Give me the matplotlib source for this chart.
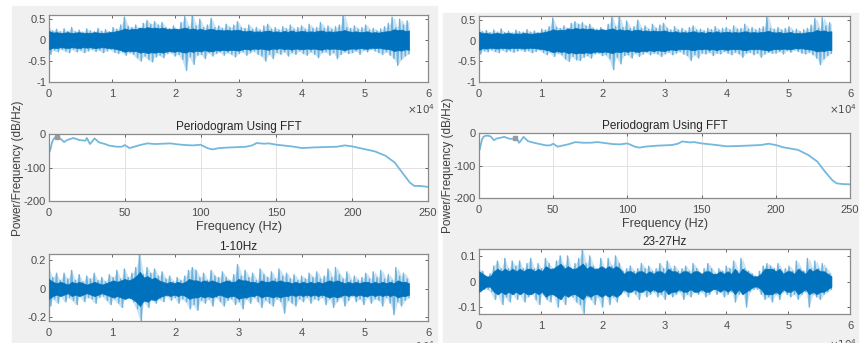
import numpy as np
import matplotlib.pyplot as plt
from matplotlib.patches import Rectangle

plt.rcParams['font.family'] = ['Liberation Sans', 'DejaVu Sans']

W, H = 865, 352
BLUE = '#0072BD'
LIGHT = '#6db1dc'
LINE = '#74b8de'
GRAY_BG = '#f0f0f0'
TICK = '#4d4d4d'

# ---- raw signal, top row (peaks, about every 600 samples)
left_top_up = [.32,.22,.26,.20,.27,.21,.30,.20,.24,.19,.27,.22,.20,.28,.21,.25,.20,.30,.26,.36,
               .55,.33,.30,.36,.28,.40,.47,.38,.44,.36,.42,.30,.28,.34,.26,.42,.56,.32,.60,.34,
               .50,.30,.36,.52,.30,.34,.28,.38,.30,.36,.44,.30,.28,.36,.26,.30,.24,.34,.38,.26,
               .30,.24,.32,.27,.36,.26,.30,.34,.26,.38,.28,.30,.42,.28,.34,.26,.32,.36,.62,.30,
               .28,.34,.26,.30,.36,.24,.28,.22,.27,.32,.40,.55,.30,.50,.36,.46]
left_top_lo = [.34,.24,.28,.22,.26,.30,.22,.28,.24,.30,.26,.22,.27,.24,.30,.26,.22,.29,.32,.28,
               .36,.30,.34,.42,.50,.38,.46,.52,.40,.36,.42,.32,.30,.38,.34,.46,.72,.40,.58,.36,
               .34,.44,.30,.38,.32,.28,.36,.30,.34,.40,.32,.28,.36,.30,.26,.34,.38,.50,.34,.44,
               .30,.34,.28,.38,.30,.34,.26,.32,.36,.28,.34,.42,.30,.28,.36,.30,.44,.34,.28,.32,
               .30,.26,.34,.24,.28,.22,.26,.30,.34,.28,.36,.44,.60,.46,.38,.32]
right_top_up = [.30,.22,.25,.20,.26,.21,.29,.20,.23,.19,.26,.22,.21,.27,.21,.24,.20,.28,.26,.34,
                .55,.33,.30,.36,.30,.42,.46,.40,.44,.36,.40,.30,.28,.32,.26,.40,.58,.34,.60,.32,
                .48,.30,.34,.50,.30,.36,.28,.40,.30,.38,.42,.30,.26,.34,.26,.30,.24,.32,.36,.26,
                .28,.24,.30,.27,.34,.26,.30,.32,.26,.36,.28,.30,.40,.28,.32,.26,.30,.34,.60,.30,
                .28,.32,.26,.30,.34,.24,.28,.22,.27,.30,.38,.54,.30,.56,.36,.44]
right_top_lo = [.32,.24,.27,.22,.26,.29,.22,.27,.24,.28,.25,.22,.26,.24,.29,.26,.22,.28,.34,.28,
                .38,.30,.34,.44,.50,.38,.46,.48,.40,.36,.42,.32,.30,.36,.34,.44,.70,.40,.56,.36,
                .34,.42,.30,.38,.32,.28,.34,.30,.32,.38,.32,.28,.34,.30,.26,.32,.36,.48,.34,.42,
                .30,.32,.28,.36,.30,.32,.26,.30,.34,.28,.32,.40,.30,.28,.34,.30,.40,.32,.28,.30,
                .30,.26,.32,.24,.28,.22,.26,.30,.32,.28,.34,.42,.58,.44,.36,.30]
top_core = [.22,.18,.19,.17,.18,.19,.17,.18,.19,.17,.18,.17,.19,.18,.17,.18,.19,.20,.22,.24,
            .28,.25,.27,.26,.30,.28,.31,.29,.30,.28,.30,.27,.26,.28,.26,.28,.30,.26,.28,.25,
            .27,.24,.26,.27,.24,.25,.23,.25,.23,.24,.25,.22,.21,.23,.20,.21,.20,.22,.23,.20,
            .21,.19,.22,.20,.23,.20,.21,.22,.20,.21,.20,.22,.23,.20,.21,.20,.21,.22,.24,.21,
            .20,.21,.19,.20,.21,.18,.19,.18,.20,.21,.22,.26,.24,.25,.22,.23]

# ---- filtered signals, bottom row
left_bot_up = [.15,.08,.11,.06,.11,.07,.13,.06,.10,.05,.09,.07,.11,.06,.08,.05,.10,.08,.13,.07,
               .14,.08,.11,.15,.245,.10,.15,.11,.14,.09,.12,.07,.09,.05,.08,.06,.09,.13,.15,.13,
               .08,.11,.06,.13,.09,.08,.12,.08,.06,.10,.17,.09,.13,.08,.11,.06,.14,.10,.08,.12,
               .07,.14,.09,.11,.07,.10,.06,.09,.07,.11,.08,.12,.07,.09,.14,.08,.15,.10,.07,.12,
               .06,.09,.06,.08,.11,.07,.12,.08,.13,.07,.10,.06,.15,.09,.11,.07]
left_bot_lo = [.12,.07,.10,.05,.09,.06,.08,.11,.05,.09,.06,.07,.10,.06,.05,.08,.11,.07,.10,.13,
               .07,.05,.09,.14,.225,.09,.13,.08,.10,.07,.09,.05,.08,.06,.10,.07,.09,.14,.11,
               .15,.08,.10,.07,.12,.06,.09,.12,.08,.07,.11,.09,.14,.07,.10,.06,.09,.13,.08,.10,
               .12,.07,.09,.17,.08,.10,.12,.07,.09,.06,.10,.07,.08,.06,.11,.07,.13,.09,.06,.12,
               .08,.05,.09,.07,.11,.06,.10,.07,.08,.12,.06,.10,.18,.09,.12,.08,.06]
left_bot_core = [.07,.05,.04,.05,.04,.03,.05,.04,.05,.04,.03,.04,.05,.04,.03,.04,.05,.06,.05,.06,
                 .07,.06,.07,.09,.12,.08,.09,.07,.08,.06,.05,.04,.05,.04,.05,.04,.05,.07,.06,.06,
                 .05,.06,.05,.06,.05,.04,.05,.06,.05,.05,.07,.06,.06,.05,.05,.04,.06,.05,.05,.06,
                 .05,.06,.05,.05,.04,.05,.04,.05,.04,.05,.04,.05,.04,.05,.06,.05,.06,.05,.04,.05,
                 .04,.05,.04,.05,.05,.04,.05,.04,.05,.04,.05,.04,.06,.05,.05,.04]
right_bot_up = [.05,.04,.02,.03,.06,.08,.05,.09,.05,.08,.06,.08,.05,.07,.09,.05,.07,.05,.09,.07,
                .05,.08,.10,.06,.10,.05,.07,.09,.125,.07,.10,.06,.05,.09,.05,.09,.06,.10,.07,.04,
                .05,.06,.04,.05,.07,.05,.06,.04,.05,.07,.05,.08,.05,.06,.04,.05,.06,.04,.07,.05,
                .03,.05,.07,.05,.03,.05,.04,.06,.05,.08,.04,.09,.05,.04,.03,.02,.04,.06,.07,.06,
                .05,.07,.04,.05,.06,.04,.08,.05,.04,.09,.05,.08,.05,.07,.05,.03]
right_bot_lo = [.04,.03,.03,.04,.07,.05,.09,.06,.08,.05,.07,.05,.08,.06,.04,.07,.09,.05,.07,.08,
                .05,.10,.06,.09,.05,.06,.08,.09,.125,.06,.07,.09,.06,.10,.05,.09,.06,.08,.05,.04,
                .06,.04,.05,.07,.04,.06,.05,.04,.06,.05,.07,.04,.06,.05,.04,.07,.05,.06,.04,.05,
                .04,.06,.05,.03,.05,.04,.06,.05,.04,.08,.05,.04,.10,.04,.03,.03,.05,.07,.06,.08,
                .05,.07,.04,.05,.06,.05,.07,.05,.04,.10,.05,.06,.07,.05,.04,.03]
right_bot_core = [.04,.03,.02,.02,.04,.05,.04,.05,.04,.05,.04,.05,.04,.05,.05,.04,.05,.04,.06,.05,
                  .05,.06,.07,.05,.06,.05,.05,.06,.07,.05,.06,.05,.05,.06,.05,.06,.05,.06,.05,.03,
                  .04,.04,.03,.04,.04,.03,.04,.03,.04,.04,.03,.05,.04,.04,.03,.04,.04,.03,.04,.04,
                  .03,.04,.04,.03,.03,.04,.03,.04,.03,.05,.03,.05,.04,.03,.02,.02,.03,.05,.05,.05,
                  .04,.05,.03,.04,.04,.03,.05,.04,.03,.05,.04,.05,.04,.04,.03,.02]

# ---- periodograms
freq_left = [0.5,1,2,3,4,5,7,10,12,16,20,22,24,25,27,28,30,33,37,40,45,48,50,53,57,60,65,70,75,80,
             85,90,95,100,105,108,112,120,130,134,137,142,145,150,160,167,175,190,195,200,205,
             215,222,228,233,238,241,245,250]
power_left = [-52,-45,-25,-15,-10,-8,-12,-24,-18,-12,-18,-19,-20,-12,-30,-25,-13,-25,-30,-35,-38,-38,
              -33,-42,-37,-33,-28,-30,-29,-28,-31,-33,-34,-32,-43,-46,-42,-40,-38,-34,-27,-29,-28,
              -32,-37,-42,-40,-38,-34,-37,-42,-52,-65,-85,-115,-145,-155,-155,-158]
freq_right = [0.5,1,2,3,4,6,8,10,12,17,20,22,24,25,27,28,30,33,37,40,45,48,50,53,57,60,65,70,75,80,
              85,90,95,100,105,108,112,120,130,134,137,142,145,150,160,167,175,190,195,200,205,
              215,222,228,233,238,241,245,250]
power_right = [-50,-40,-20,-12,-9,-8,-11,-22,-17,-12,-17,-18,-17,-12,-30,-25,-12,-25,-30,-33,-38,-38,
               -33,-42,-38,-35,-28,-30,-30,-28,-31,-34,-35,-32,-42,-45,-42,-39,-37,-33,-26,-29,-28,
               -32,-37,-41,-40,-37,-33,-37,-44,-52,-68,-88,-118,-145,-155,-157,-158]

fig = plt.figure(figsize=(W / 100, H / 100), dpi=100)


def new_axes(x0, y0, x1, y1):
    ax = fig.add_axes([x0 / W, 1 - y1 / H, (x1 - x0) / W, (y1 - y0) / H])
    ax.tick_params(direction='in', top=True, right=True, length=2, width=0.6,
                   labelsize=8, colors=TICK)
    ax.tick_params(axis='x', pad=5)
    ax.tick_params(axis='y', pad=2)
    for s in ax.spines.values():
        s.set_color('#8a8a8a')
        s.set_linewidth(0.9)
    return ax


def zigzag(up, lo):
    # signal swings between its upper and lower peak, like the raw samples do
    n = min(len(up), len(lo))
    y = np.empty(2 * n)
    y[0::2] = up[:n]
    y[1::2] = -np.array(lo[:n])
    return np.linspace(0, 57000, 2 * n), y


def plot_signal(ax, up, lo, core, ylim, yticks, ylabels):
    x, y = zigzag(up, lo)
    ax.plot(x, y, color=LIGHT, lw=1.0)
    xe = np.linspace(0, 57000, min(len(up), len(lo)))
    n = len(xe)
    ax.fill_between(xe, up[:n], -np.array(lo[:n]), color=LIGHT, alpha=0.35, lw=0, zorder=1)
    xc = np.linspace(0, 57000, len(core))
    ax.fill_between(xc, core, -np.array(core), color=BLUE, lw=0.5, zorder=3)
    ax.set_xlim(0, 60000)
    ax.set_ylim(*ylim)
    ax.set_xticks(np.arange(0, 60001, 10000), ['0', '1', '2', '3', '4', '5', '6'])
    ax.set_yticks(yticks, ylabels)


def plot_fft(ax, f, p, mark):
    ax.plot(f, p, color=LINE, lw=1.3)
    ax.plot([mark[0]], [mark[1]], 's', color='#9a9a9a', ms=2.5)
    ax.grid(True, color='#e2e2e2', lw=0.7)
    ax.set_axisbelow(True)
    ax.set_xlim(0, 250)
    ax.set_ylim(-200, 0)
    ax.set_xticks([0, 50, 100, 150, 200, 250])
    ax.set_yticks([-200, -100, 0], ['-200', '-100', '0'])
    ax.set_title('Periodogram Using FFT', fontsize=8.5, color='#262626', pad=3)
    ax.set_xlabel('Frequency (Hz)', fontsize=9, color='#404040', labelpad=2)


# grey figure backgrounds behind the two screenshots
fig.add_artist(Rectangle((12 / W, 1 - 343 / H), 425 / W, 337 / H, color=GRAY_BG, zorder=-5))
fig.add_artist(Rectangle((443 / W, 1 - 343 / H), 415 / W, 330 / H, color=GRAY_BG, zorder=-5))

top_ticks = [-1, -0.5, 0, 0.5]
top_labels = ['-1', '-0.5', '0', '0.5']

ax = new_axes(49, 15, 428, 82)
plot_signal(ax, left_top_up, left_top_lo, top_core, (-1, 0.6), top_ticks, top_labels)
ax = new_axes(479, 16, 850, 82)
plot_signal(ax, right_top_up, right_top_lo, top_core, (-1, 0.6), top_ticks, top_labels)

ax = new_axes(49, 134, 428, 201)
plot_fft(ax, freq_left, power_left, (5, -8))
ax = new_axes(479, 133, 850, 198)
plot_fft(ax, freq_right, power_right, (24, -14))

ax = new_axes(49, 254, 428, 321)
plot_signal(ax, left_bot_up, left_bot_lo, left_bot_core, (-0.225, 0.245),
            [-0.2, 0, 0.2], ['-0.2', '0', '0.2'])
ax.set_title('1-10Hz', fontsize=8.5, color='#262626', pad=3)
ax = new_axes(479, 249, 850, 314)
plot_signal(ax, right_bot_up, right_bot_lo, right_bot_core, (-0.127, 0.127),
            [-0.1, 0, 0.1], ['-0.1', '0', '0.1'])
ax.set_title('23-27Hz', fontsize=8.5, color='#262626', pad=3)

fig.text(18 / W, 1 - 168 / H, 'Power/Frequency (dB/Hz)', rotation=90, fontsize=8.5,
         color='#404040', ha='center', va='center')
fig.text(448 / W, 1 - 165 / H, 'Power/Frequency (dB/Hz)', rotation=90, fontsize=8.5,
         color='#404040', ha='center', va='center')

# exponent labels, the two lower ones are cut off by the screenshot edge
for px, py in [(421, 109), (843, 109), (421, 346), (843, 344)]:
    fig.text(px / W, 1 - py / H, r'$\times10^{4}$', fontsize=7.5, color=TICK,
             ha='center', va='center', math_fontfamily='dejavusans')
fig.add_artist(Rectangle((0, 0), 1, 1 - 343 / H, color='white', zorder=10))

fig.savefig('out.png', dpi=100)
